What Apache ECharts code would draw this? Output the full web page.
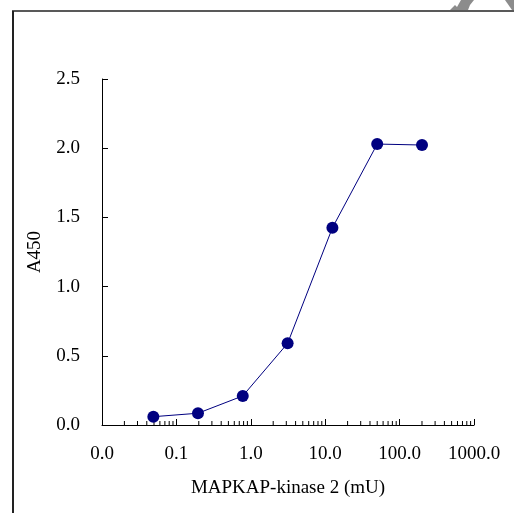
<!DOCTYPE html>
<html>
<head>
<meta charset="utf-8">
<script src="https://cdn.jsdelivr.net/npm/echarts@6/dist/echarts.min.js"></script>
<style>html,body{margin:0;padding:0;background:#fff}#c{width:514px;height:513px}</style>
</head>
<body>
<div id="c"></div>
<script>
var kinaseMU = [0.049, 0.195, 0.78, 3.125, 12.5, 50, 200];
var a450 = [0.06, 0.085, 0.21, 0.59, 1.425, 2.03, 2.023];
var xMajorTicks = [0.01, 0.1, 1, 10, 100, 1000];
var yTicks = [0, 0.5, 1.0, 1.5, 2.0, 2.5];
var xMinorTicks = [];
[0.01, 0.1, 1, 10, 100].forEach(function (d) {
  for (var k = 2; k <= 9; k++) xMinorTicks.push(+(d * k).toPrecision(3));
});

var FONT = 'Liberation Serif';
var FS = 19;
var chart = echarts.init(document.getElementById('c'), null, {renderer: 'canvas'});
chart.setOption({
  animation: false,
  backgroundColor: '#fff',
  grid: {left: 102, right: 40, top: 79, bottom: 88, containLabel: false},
  xAxis: {
    type: 'log', logBase: 10,
    min: xMajorTicks[0], max: xMajorTicks[xMajorTicks.length - 1],
    name: 'MAPKAP-kinase 2 (mU)', nameLocation: 'middle', nameGap: 54,
    nameTextStyle: {fontFamily: FONT, fontSize: FS, color: '#000'},
    axisLine: {show: true, lineStyle: {color: '#000', width: 1}},
    axisTick: {show: true, inside: true, length: 6, lineStyle: {color: '#000'}},
    minorTick: {show: false},
    splitLine: {show: false},
    axisLabel: {
      fontFamily: FONT, fontSize: FS, color: '#000', margin: 20,
      formatter: function (v) { return (+v).toFixed(1); }
    }
  },
  yAxis: {
    type: 'value', min: yTicks[0], max: yTicks[yTicks.length - 1], interval: 0.5,
    name: 'A450', nameLocation: 'middle', nameGap: 57,
    nameTextStyle: {fontFamily: FONT, fontSize: FS, color: '#000'},
    axisLine: {show: true, lineStyle: {color: '#000', width: 1}},
    axisTick: {show: true, inside: true, length: 6, lineStyle: {color: '#000'}},
    splitLine: {show: false},
    axisLabel: {
      fontFamily: FONT, fontSize: FS, color: '#000', margin: 22,
      formatter: function (v) { return (+v).toFixed(1); }
    }
  },
  graphic: [
    {type: 'line', shape: {x1: 13, y1: 11, x2: 13, y2: 520}, style: {stroke: '#222', lineWidth: 2}},
    {type: 'line', shape: {x1: 12, y1: 11, x2: 520, y2: 11}, style: {stroke: '#222', lineWidth: 1.5}},
    {type: 'polygon', shape: {points: [[450, 10], [455, 5], [457, 7], [461, 0], [474, 0], [470, 5], [468, 10]]}, style: {fill: '#8c8c8c'}},
    {type: 'polygon', shape: {points: [[505, 0], [514, 0], [514, 10], [512, 10]]}, style: {fill: '#8c8c8c'}}
  ],
  series: [
    {
      type: 'custom',
      silent: true,
      data: xMinorTicks.map(function (v) { return [v, 0]; }),
      renderItem: function (params, api) {
        var p = api.coord([api.value(0), api.value(1)]);
        return {type: 'line', shape: {x1: p[0], y1: p[1], x2: p[0], y2: p[1] - 4}, style: {stroke: '#000', lineWidth: 1}};
      },
      z: 1
    },
    {
      type: 'line',
      data: kinaseMU.map(function (x, i) { return [x, a450[i]]; }),
      symbol: 'circle', symbolSize: 12,
      itemStyle: {color: '#000080'},
      lineStyle: {color: '#000080', width: 1},
      z: 3
    }
  ]
});
</script>
</body>
</html>
